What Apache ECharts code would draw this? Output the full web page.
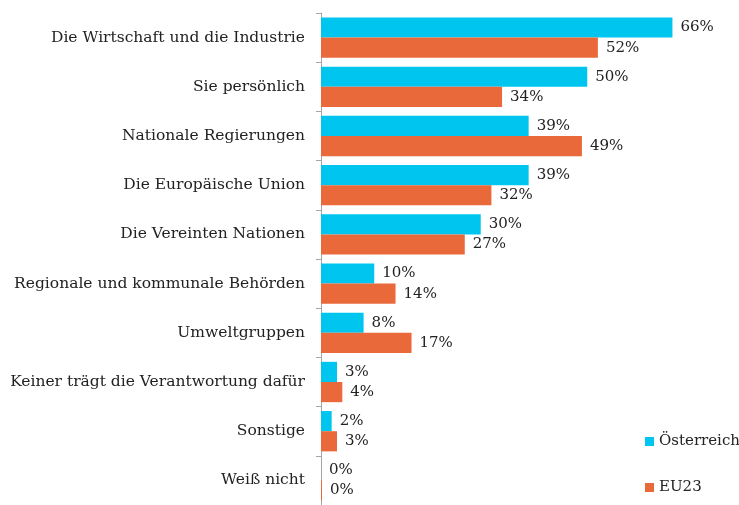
<!doctype html>
<html lang="de">
    <head>
        <meta charset="UTF-8" />
        <title>Verantwortung</title>
        <script src="https://cdn.jsdelivr.net/npm/echarts@6.0.0/dist/echarts.min.js"></script>
        <style>
            html, body { margin: 0; padding: 0; background: #fff; }
        </style>
    </head>
    <body>
        <div id="main" style="width: 739px; height: 505px"></div>

        <script>
            // Categories, top to bottom
            const categories = [
                "Die Wirtschaft und die Industrie",
                "Sie persönlich",
                "Nationale Regierungen",
                "Die Europäische Union",
                "Die Vereinten Nationen",
                "Regionale und kommunale Behörden",
                "Umweltgruppen",
                "Keiner trägt die Verantwortung dafür",
                "Sonstige",
                "Weiß nicht",
            ];
            const austria = [66, 50, 39, 39, 30, 10, 8, 3, 2, 0];
            const eu23 = [52, 34, 49, 32, 27, 14, 17, 4, 3, 0];

            const font = "DejaVu Serif";

            const myChart = echarts.init(document.getElementById("main"));

            const labelOpt = {
                show: true,
                position: "right",
                distance: 8,
                formatter: "{c}%",
                fontFamily: font,
                fontSize: 15,
                color: "#222",
            };

            const options = {
                animation: false,
                textStyle: { fontFamily: font },
                grid: { left: 321, top: 13, right: 0, bottom: 0 },
                legend: {
                    orient: "vertical",
                    left: 640,
                    bottom: 5,
                    itemWidth: 9,
                    itemHeight: 9,
                    itemGap: 31,
                    icon: "rect",
                    textStyle: { fontFamily: font, fontSize: 15, color: "#222" },
                    data: ["Österreich", "EU23"],
                },
                xAxis: {
                    type: "value",
                    min: 0,
                    max: 78.5,
                    show: false,
                },
                yAxis: {
                    type: "category",
                    inverse: true,
                    data: categories,
                    axisLine: { show: true, lineStyle: { color: "#a6a6a6" } },
                    axisTick: {
                        show: true,
                        length: 5,
                        alignWithLabel: false,
                        lineStyle: { color: "#a6a6a6" },
                    },
                    axisLabel: {
                        margin: 16,
                        fontFamily: font,
                        fontSize: 15.5,
                        color: "#222",
                    },
                },
                series: [
                    {
                        name: "Österreich",
                        type: "bar",
                        data: austria,
                        barGap: "0%",
                        barCategoryGap: "18%",
                        itemStyle: { color: "#00C6EF" },
                        label: labelOpt,
                    },
                    {
                        name: "EU23",
                        type: "bar",
                        data: eu23,
                        barMinHeight: 1,
                        itemStyle: { color: "#EA693B" },
                        label: labelOpt,
                    },
                ],
            };

            myChart.setOption(options);
        </script>
    </body>
</html>
